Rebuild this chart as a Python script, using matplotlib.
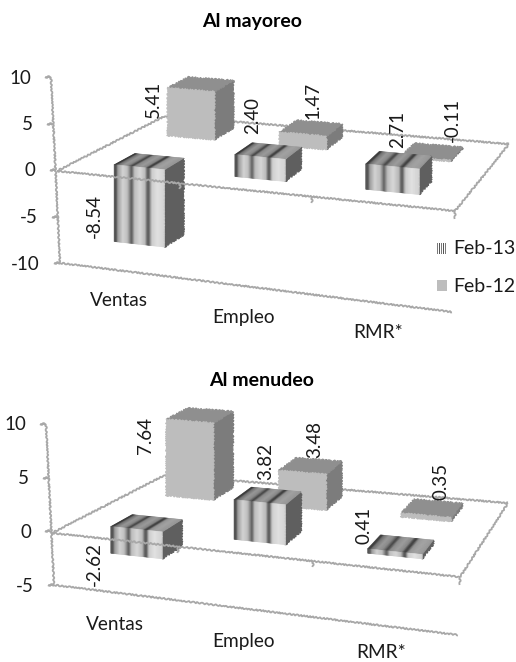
import numpy as np
import matplotlib
matplotlib.use("Agg")
import matplotlib.pyplot as plt
from matplotlib.collections import PolyCollection
from matplotlib.patches import Polygon, Rectangle

plt.rcParams["font.family"] = ["Lato", "DejaVu Sans"]

categories = ["Ventas", "Empleo", "RMR*"]
series_names = ["Feb-13", "Feb-12"]

mayoreo_feb13 = [-8.54, 2.40, 2.71]
mayoreo_feb12 = [5.41, 1.47, -0.11]
menudeo_feb13 = [-2.62, 3.82, 0.41]
menudeo_feb12 = [7.64, 3.48, 0.35]

mayoreo_ticks = [-10, -5, 0, 5, 10]
menudeo_ticks = [-5, 0, 5, 10]

# position and width of each category along the floor, and depth of each row
BAR_U = [0.097, 0.408, 0.745]
BAR_DU = [0.130, 0.130, 0.138]
ROW_W = [0.18, 0.70]
BAR_DW = 0.20

LINE_COLOR = "#a8a8a8"
TEXT_COLOR = "#1a1a1a"

# grey level across the width of a striped bar
STRIPE_POS = [0, .04, .08, .18, .27, .32, .35, .41, .52, .62, .66, .69, .75, .86, 1]
STRIPE_GREY = [.36, .28, .60, .82, .74, .50, .34, .74, .84, .72, .40, .30, .80, .88, .82]

fig = plt.figure(figsize=(5.16, 6.62), dpi=100)
ax = fig.add_axes([0, 0, 1, 1])
ax.set_xlim(0, 516)
ax.set_ylim(662, 0)
ax.axis("off")


class Panel:
    """Oblique view of one 3D column chart"""

    def __init__(self, fl, fr, br, bl, axis_top, axis_bot, bottom_end, scale, vmin, vmax):
        self.fl, self.fr, self.br, self.bl = [np.array(p, float) for p in (fl, fr, br, bl)]
        self.axis_top = np.array(axis_top, float)
        self.axis_bot = np.array(axis_bot, float)
        self.bottom_end = np.array(bottom_end, float)
        self.scale = scale
        self.vmin, self.vmax = vmin, vmax

    def project(self, u, w, v=0.0):
        front = self.fl + u * (self.fr - self.fl)
        back = self.bl + u * (self.br - self.bl)
        p = front + w * (back - front)
        s = self.scale * (1 + 0.06 * u) * (1 - 0.04 * w)
        return np.array([p[0], p[1] - s * v])

    def axis_point(self, v):
        t = (self.vmax - v) / (self.vmax - self.vmin)
        return self.axis_top + t * (self.axis_bot - self.axis_top)


def rough_line(p0, p1, lw=1.3, z=1):
    line, = ax.plot([p0[0], p1[0]], [p0[1], p1[1]], color=LINE_COLOR, lw=lw, zorder=z,
                    solid_capstyle="butt")
    line.set_sketch_params(scale=0.7, length=4, randomness=2)


def rough_poly(points, color, z):
    poly = Polygon(points, closed=True, facecolor=color, edgecolor=color, lw=0.8, zorder=z)
    poly.set_sketch_params(scale=0.8, length=3, randomness=2)
    ax.add_patch(poly)


def draw_plain_box(panel, u0, du, w0, value, z):
    u1, w1 = u0 + du, w0 + BAR_DW
    lo, hi = min(0, value), max(0, value)
    rough_poly([panel.project(u1, w0, lo), panel.project(u1, w1, lo),
                panel.project(u1, w1, hi), panel.project(u1, w0, hi)], "#7c7c7c", z)
    rough_poly([panel.project(u0, w0, hi), panel.project(u1, w0, hi),
                panel.project(u1, w1, hi), panel.project(u0, w1, hi)], "#8f8f8f", z)
    rough_poly([panel.project(u0, w0, lo), panel.project(u1, w0, lo),
                panel.project(u1, w0, hi), panel.project(u0, w0, hi)], "#bdbdbd", z + 0.1)


def draw_striped_box(panel, u0, du, w0, value, z):
    u1, w1 = u0 + du, w0 + BAR_DW
    lo, hi = min(0, value), max(0, value)
    rough_poly([panel.project(u1, w0, lo), panel.project(u1, w1, lo),
                panel.project(u1, w1, hi), panel.project(u1, w0, hi)], "#5f5f5f", z)
    n = 48
    edges = np.linspace(0, 1, n + 1)
    mids = (edges[:-1] + edges[1:]) / 2
    grey = np.interp(mids, STRIPE_POS, STRIPE_GREY)
    front, top = [], []
    for a, b in zip(edges[:-1], edges[1:]):
        ua, ub = u0 + a * du, u0 + b * du
        front.append([panel.project(ua, w0, lo), panel.project(ub, w0, lo),
                      panel.project(ub, w0, hi), panel.project(ua, w0, hi)])
        top.append([panel.project(ua, w0, hi), panel.project(ub, w0, hi),
                    panel.project(ub, w1, hi), panel.project(ua, w1, hi)])
    front_colors = [(g, g, g) for g in grey]
    top_colors = [(g * .72, g * .72, g * .72) for g in grey]
    ax.add_collection(PolyCollection(top, facecolors=top_colors, edgecolors=top_colors,
                                     linewidths=0.4, zorder=z))
    ax.add_collection(PolyCollection(front, facecolors=front_colors, edgecolors=front_colors,
                                     linewidths=0.4, zorder=z + 0.1))


def draw_panel(panel, title, title_xy, feb13, feb12, ticks, label_xy, category_xy):
    ax.text(title_xy[0], title_xy[1], title, fontsize=14, fontweight="bold", color="black",
            ha="center", va="center")

    # walls and floor
    rough_line(panel.axis_top, panel.axis_bot)
    rough_line(panel.axis_bot, panel.bottom_end)
    rough_line(panel.fl, panel.bl)
    rough_line(panel.bl, panel.br)
    rough_line(panel.br, panel.fr)
    rough_line(panel.fr, panel.fr + [0, 8])

    for t in ticks:
        p = panel.axis_point(t)
        rough_line(p + [-6, 0], p, lw=1.6)
        ax.text(p[0] - 20, p[1] + 1, str(t), fontsize=13.5, color=TEXT_COLOR, ha="right", va="center")

    # back row first, the front row hides part of it
    for i in range(len(categories)):
        draw_plain_box(panel, BAR_U[i], BAR_DU[i], ROW_W[1], feb12[i], 3 + (2 - i) * 0.2)
    for i in range(len(categories)):
        draw_striped_box(panel, BAR_U[i], BAR_DU[i], ROW_W[0], feb13[i], 5 + (2 - i) * 0.2)

    # front edge of the floor runs across the columns
    rough_line(panel.fl, panel.fr, z=7)
    for u in (0.31, 0.64):
        p = panel.project(u, 0)
        rough_line(p, p + [0, 6], z=7)

    values = list(feb13) + list(feb12)
    for v, (x, y) in zip(values, label_xy):
        ax.text(x, y, f"{v:.2f}", fontsize=13.5, color=TEXT_COLOR, rotation=90,
                ha="center", va="center", zorder=9)

    for name, (x, y) in zip(categories, category_xy):
        ax.text(x, y, name, fontsize=13.7, color=TEXT_COLOR, ha="center", va="center")


mayoreo = Panel((57, 171), (455, 211), (509, 144), (165, 116),
                (51, 77), (60, 263), (452, 312), 9.0, -10, 10)
menudeo = Panel((52, 533), (460, 577), (508, 503), (165, 475),
                (46, 424), (54, 585), (458, 635), 10.2, -5, 10)

draw_panel(mayoreo, "Al mayoreo", (252, 21), mayoreo_feb13, mayoreo_feb12, mayoreo_ticks,
           [(94, 216), (253, 115), (398, 129), (153, 99), (313, 100), (452, 120)],
           [(119, 301), (244, 317), (378, 332)])
draw_panel(menudeo, "Al menudeo", (262, 380), menudeo_feb13, menudeo_feb12, menudeo_ticks,
           [(94, 564), (266, 462), (364, 525), (146, 435), (315, 439), (441, 481)],
           [(115, 625), (243, 641), (381, 652)])

# legend of the upper chart
for k, (name, y) in enumerate(zip(series_names, (249, 286))):
    if k == 0:
        for j, x in enumerate(np.linspace(437, 445, 5)):
            ax.add_patch(Rectangle((x, y - 6), 1.3, 11, color="#555555" if j % 2 else "#7a7a7a", lw=0))
    else:
        ax.add_patch(Rectangle((437, y - 6), 9.5, 11, color="#bdbdbd", lw=0))
    ax.text(453, y, name, fontsize=14, color=TEXT_COLOR, ha="left", va="center")

fig.savefig("out.png", dpi=100, facecolor="white")
